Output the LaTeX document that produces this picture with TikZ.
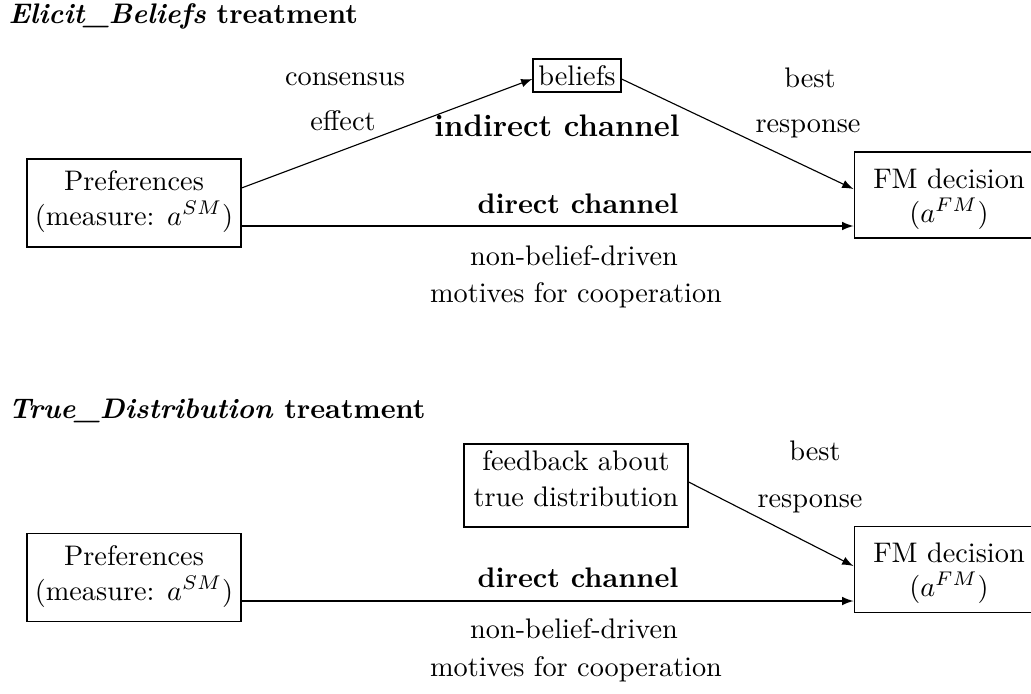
\documentclass[tikz,border=0pt]{standalone}
\usetikzlibrary{arrows,calc}
\tikzset{
  box/.style={draw, line width=0.4pt, inner sep=0pt},
  lbl/.style={anchor=base, inner sep=0pt},
  ttl/.style={anchor=base west, inner sep=0pt, font=\bfseries},
  arr/.style={-latex, line width=0.4pt},
  prefbox/.style={box, minimum width=75.6pt, minimum height=31.1pt},
  fmbox/.style={box, minimum width=67.1pt, minimum height=30.4pt},
}
\begin{document}
\begin{tikzpicture}[x=0.3534pt, y=-0.3534pt]
\useasboundingbox (0,0) rectangle (1031,694);
% ---------- Elicit_Beliefs ----------
\node[ttl] (t1) at (8,23) {\textit{Elicit\_Beliefs} treatment};
\node[prefbox] (p1) at (134,203) {};
\node[lbl] (p1a) at (134,190) {Preferences};
\node[lbl] (p1b) at (134,225) {(measure: $a^{SM}$)};
\node[fmbox] (f1) at (949,195) {};
\node[lbl] (f1a) at (949,188) {FM decision};
\node[lbl] (f1b) at (949,222) {($a^{FM}$)};
\node[box, minimum width=31.1pt, minimum height=11.7pt] (b1) at (577,75.5) {beliefs};
\draw[arr] ($(p1.east)+(0,-15)$) -- ($(b1.west)+(0,3.5)$);
\draw[arr] ($(b1.east)+(0,3.5)$) -- ($(f1.west)+(0,-6)$);
\draw[arr] ($(p1.east)+(0,23)$) -- ($(f1.west)+(0,31)$);
\node[lbl] (c1) at (345,85) {consensus};
\node[lbl] (c2) at (343,130) {effect};
\node[lbl] (r1) at (810,87) {best};
\node[lbl] (r2) at (808,132) {response};
\node[lbl, font=\fontsize{11}{13}\selectfont\bfseries] (i1) at (557,136) {indirect channel};
\node[lbl, font=\bfseries] (d1) at (578,213) {direct channel};
\node[lbl] (n1) at (574,265) {non-belief-driven};
\node[lbl] (m1) at (576,302) {motives for cooperation};
% ---------- True_Distribution ----------
\node[ttl] (t2) at (8,418) {\textit{True\_Distribution} treatment};
\node[prefbox] (p2) at (134,577.5) {};
\node[lbl] (p2a) at (134,565) {Preferences};
\node[lbl] (p2b) at (134,600) {(measure: $a^{SM}$)};
\node[fmbox] (f2) at (949,569.5) {};
\node[lbl] (f2a) at (949,562) {FM decision};
\node[lbl] (f2b) at (949,596) {($a^{FM}$)};
\node[box, minimum width=79.2pt, minimum height=29.3pt] (fb) at (576,485.5) {};
\node[lbl] (fba) at (576,470) {feedback about};
\node[lbl] (fbb) at (576,506) {true distribution};
\draw[arr] ($(fb.east)+(0,-3.5)$) -- ($(f2.west)+(0,-3.5)$);
\draw[arr] ($(p2.east)+(0,23.5)$) -- ($(f2.west)+(0,31.5)$);
\node[lbl] (r3) at (815,460) {best};
\node[lbl] (r4) at (810,507) {response};
\node[lbl, font=\bfseries] (d2) at (578,587) {direct channel};
\node[lbl] (n2) at (574,638) {non-belief-driven};
\node[lbl] (m2) at (576,676) {motives for cooperation};
\end{tikzpicture}
\end{document}
